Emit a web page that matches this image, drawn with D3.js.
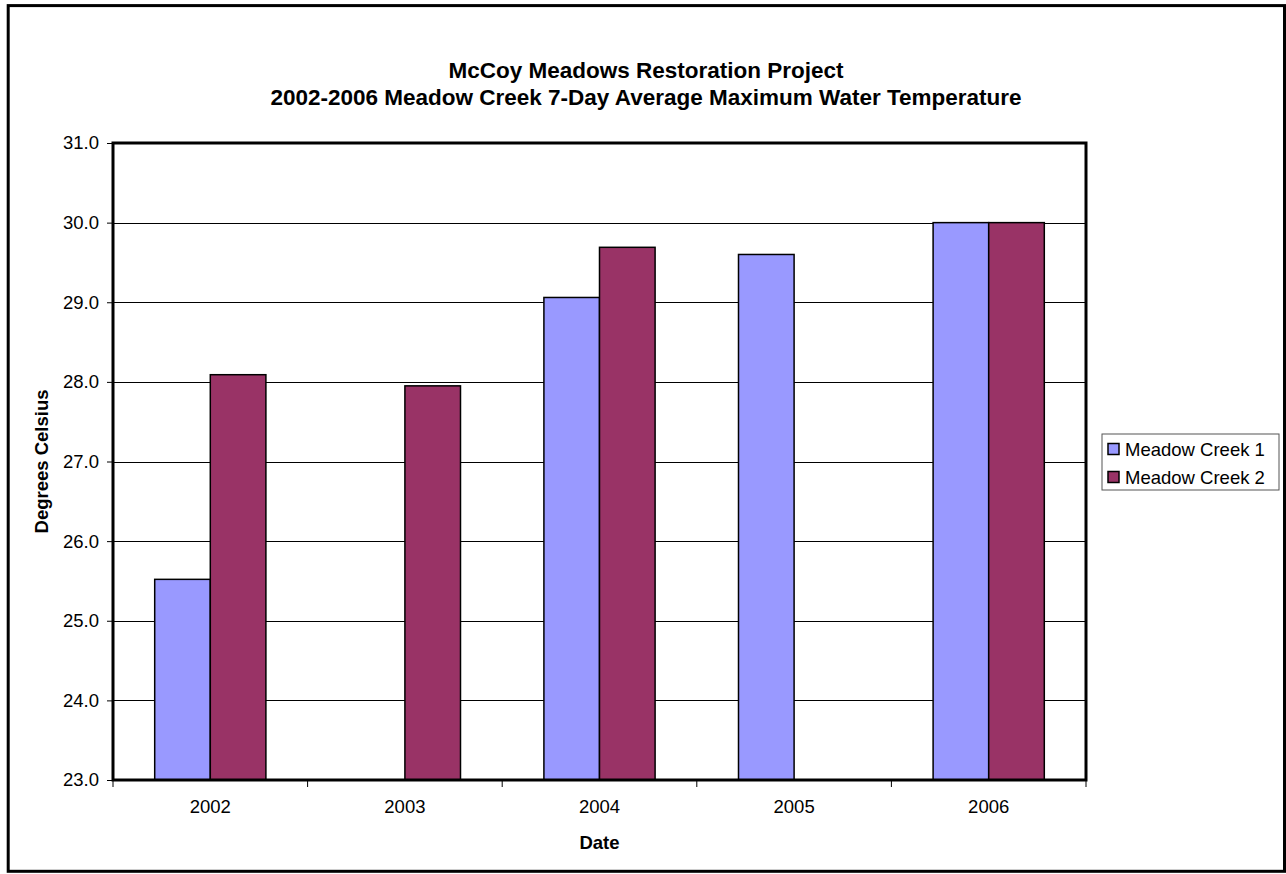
<!DOCTYPE html>
<html>
<head>
<meta charset="utf-8">
<script src="https://cdn.jsdelivr.net/npm/d3@7"></script>
<style>
  html, body { margin: 0; padding: 0; background: #fff; }
  svg { display: block; font-family: "Liberation Sans", Arial, sans-serif; }
</style>
</head>
<body>
<svg id="chart" width="1286" height="874"></svg>
<script>
// Data: 7-day average maximum water temperature (°C) per year
const years = ["2002", "2003", "2004", "2005", "2006"];
const seriesNames = ["Meadow Creek 1", "Meadow Creek 2"];
const creek1 = [25.52, null, 29.06, 29.60, 30.00];
const creek2 = [28.09, 27.95, 29.69, null, 30.00];
const yTicks = [23, 24, 25, 26, 27, 28, 29, 30, 31];
const seriesColors = ["#9999FF", "#993366"];
const titleLines = [
  "McCoy Meadows Restoration Project",
  "2002-2006 Meadow Creek 7-Day Average Maximum Water Temperature"
];

const svg = d3.select("#chart");

// Outer chart border
svg.append("rect")
  .attr("x", 8.2).attr("y", 5.6)
  .attr("width", 1276.3).attr("height", 865.7)
  .attr("fill", "#fff").attr("stroke", "#000").attr("stroke-width", 3);

// Plot area
const plot = { left: 113, right: 1086, top: 143, bottom: 780 };

const x0 = d3.scaleBand().domain(years).range([plot.left, plot.right]).padding(0);
const groupW = x0.bandwidth() * 2 / 3.5;
const x1 = d3.scaleBand().domain(seriesNames).range([0, groupW]).padding(0);
const y = d3.scaleLinear().domain([23, 31]).range([plot.bottom, plot.top]);
const color = d3.scaleOrdinal().domain(seriesNames).range(seriesColors);

// Title
svg.append("g").selectAll("text")
  .data(titleLines)
  .join("text")
  .attr("x", 646)
  .attr("y", (d, i) => 78 + i * 27)
  .attr("text-anchor", "middle")
  .attr("font-size", 22.5)
  .attr("font-weight", "bold")
  .text(d => d);

// Horizontal gridlines
svg.append("g").selectAll("line")
  .data(yTicks.slice(1, -1))
  .join("line")
  .attr("x1", plot.left).attr("x2", plot.right)
  .attr("y1", d => Math.round(y(d)) + 0.5)
  .attr("y2", d => Math.round(y(d)) + 0.5)
  .attr("stroke", "#000").attr("stroke-width", 1);

// Bars
const rows = years.map((yr, i) => ({ year: yr, values: [creek1[i], creek2[i]] }));
const groups = svg.append("g").selectAll("g")
  .data(rows)
  .join("g")
  .attr("transform", d => `translate(${x0(d.year) + (x0.bandwidth() - groupW) / 2},0)`);

groups.selectAll("rect")
  .data(d => d.values.map((v, j) => ({ name: seriesNames[j], value: v })).filter(e => e.value != null))
  .join("rect")
  .attr("x", d => x1(d.name))
  .attr("width", x1.bandwidth())
  .attr("y", d => y(d.value))
  .attr("height", d => y(23) - y(d.value))
  .attr("fill", d => color(d.name))
  .attr("stroke", "#000")
  .attr("stroke-width", 1.5);

// Y axis
const yAxis = svg.append("g")
  .attr("transform", `translate(${plot.left},0)`)
  .call(d3.axisLeft(y).tickValues(yTicks).tickFormat(d3.format(".1f")).tickSize(6).tickPadding(8));
yAxis.select(".domain").remove();
yAxis.selectAll("line").attr("stroke", "#000");
yAxis.selectAll("text").attr("font-size", 18.5).attr("fill", "#000")
  .attr("font-family", "'Liberation Sans', Arial, sans-serif");

// X axis labels
const xAxis = svg.append("g")
  .attr("transform", `translate(0,${plot.bottom})`)
  .call(d3.axisBottom(x0).tickSize(0).tickPadding(20));
xAxis.select(".domain").remove();
xAxis.selectAll("text").attr("font-size", 18.5).attr("fill", "#000")
  .attr("font-family", "'Liberation Sans', Arial, sans-serif");

// X tick marks at category boundaries
const boundaries = years.map(d => x0(d)).concat([plot.right]);
svg.append("g").selectAll("line")
  .data(boundaries)
  .join("line")
  .attr("x1", d => d).attr("x2", d => d)
  .attr("y1", plot.bottom).attr("y2", plot.bottom + 7)
  .attr("stroke", "#000").attr("stroke-width", 1);

// Plot frame
svg.append("rect")
  .attr("x", plot.left).attr("y", plot.top)
  .attr("width", plot.right - plot.left).attr("height", plot.bottom - plot.top)
  .attr("fill", "none").attr("stroke", "#000").attr("stroke-width", 3);

// Axis titles
svg.append("text")
  .attr("x", (plot.left + plot.right) / 2).attr("y", 849)
  .attr("text-anchor", "middle")
  .attr("font-size", 18.5).attr("font-weight", "bold")
  .text("Date");

svg.append("text")
  .attr("transform", `translate(48,${(plot.top + plot.bottom) / 2}) rotate(-90)`)
  .attr("text-anchor", "middle")
  .attr("font-size", 18.5).attr("font-weight", "bold")
  .text("Degrees Celsius");

// Legend
const legend = svg.append("g");
legend.append("rect")
  .attr("x", 1102).attr("y", 434)
  .attr("width", 177).attr("height", 56)
  .attr("fill", "#fff").attr("stroke", "#555").attr("stroke-width", 1);

const items = legend.selectAll("g.item")
  .data(seriesNames)
  .join("g")
  .attr("class", "item")
  .attr("transform", (d, i) => `translate(0,${449 + i * 28})`);

items.append("rect")
  .attr("x", 1108).attr("y", -5.5)
  .attr("width", 11).attr("height", 11)
  .attr("fill", d => color(d))
  .attr("stroke", "#000").attr("stroke-width", 1.5);

items.append("text")
  .attr("x", 1125).attr("y", 6.5)
  .attr("font-size", 18.5)
  .text(d => d);
</script>
</body>
</html>
